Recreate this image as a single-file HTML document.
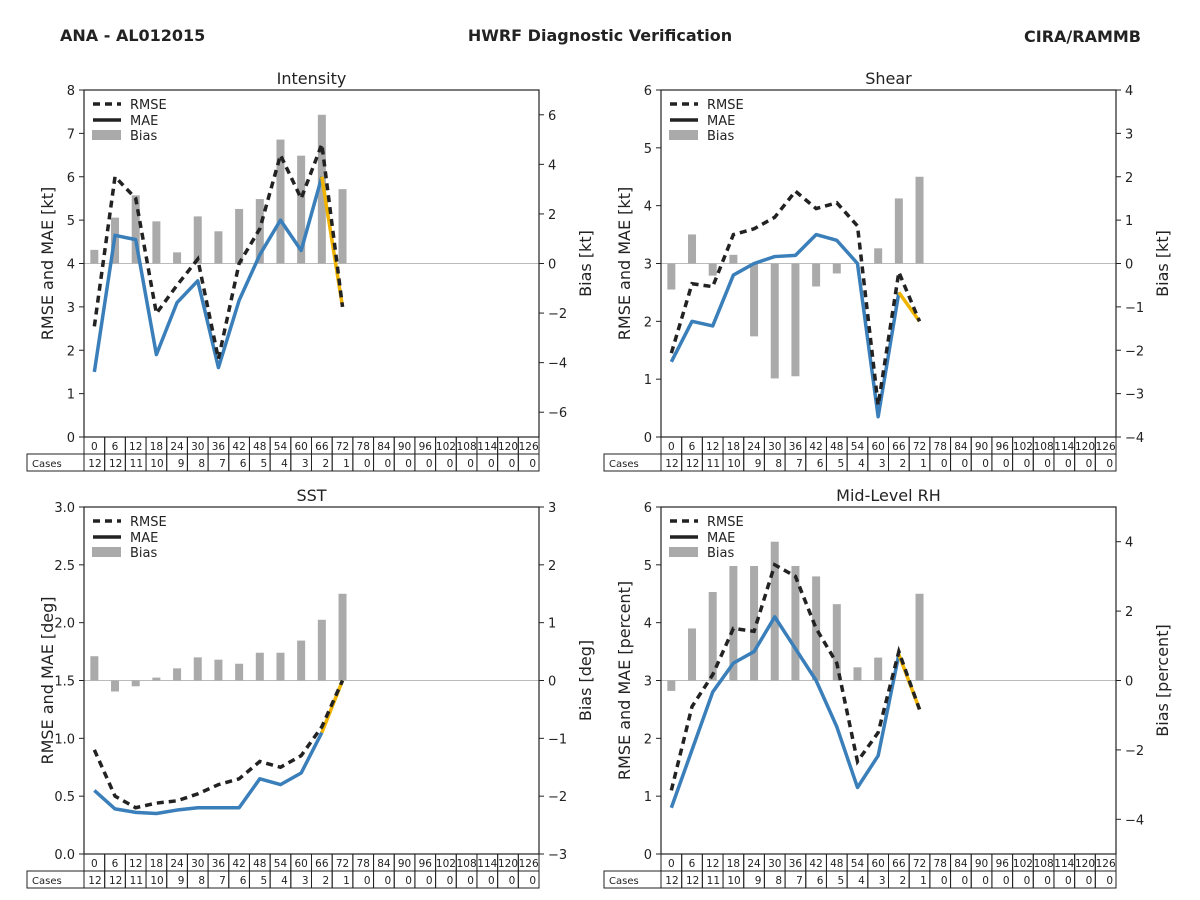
<!DOCTYPE html>
<html><head><meta charset="utf-8"><style>
body{margin:0;background:#fff;}
svg{display:block;font-family:"DejaVu Sans","Liberation Sans",sans-serif;}
</style></head><body>
<svg id="chart" width="1200" height="900">
<text x="60" y="41" font-size="16" font-weight="bold" fill="#222">ANA - AL012015</text>
<text x="600" y="41" font-size="16" font-weight="bold" fill="#222" text-anchor="middle">HWRF Diagnostic Verification</text>
<text x="1141" y="42" font-size="16" font-weight="bold" fill="#222" text-anchor="end">CIRA/RAMMB</text>
</svg>
<script>
const leads=[0,6,12,18,24,30,36,42,48,54,60,66,72,78,84,90,96,102,108,114,120,126];
const cases=[12,12,11,10,9,8,7,6,5,4,3,2,1,0,0,0,0,0,0,0,0,0];
const intRmse=[2.55,6.0,5.5,2.85,3.5,4.1,1.8,4.0,4.8,6.5,5.5,6.75,3.0];
const intMae=[1.5,4.65,4.55,1.9,3.1,3.6,1.6,3.15,4.2,5.0,4.3,6.0,3.0];
const intBias=[0.55,1.85,2.75,1.7,0.45,1.9,1.3,2.2,2.6,5.0,4.35,6.0,3.0];
const shrRmse=[1.45,2.65,2.6,3.5,3.6,3.8,4.25,3.95,4.05,3.65,0.55,2.85,2.0];
const shrMae=[1.3,2.0,1.92,2.8,3.0,3.12,3.14,3.5,3.4,3.0,0.35,2.5,2.0];
const shrBias=[-0.6,0.67,-0.28,0.2,-1.68,-2.65,-2.6,-0.53,-0.23,0,0.35,1.5,2.0];
const sstRmse=[0.9,0.5,0.4,0.44,0.46,0.52,0.6,0.65,0.8,0.75,0.85,1.1,1.5];
const sstMae=[0.55,0.39,0.36,0.35,0.38,0.4,0.4,0.4,0.65,0.6,0.7,1.05,1.5];
const sstBias=[0.42,-0.19,-0.1,0.05,0.21,0.4,0.36,0.29,0.48,0.48,0.69,1.05,1.5];
const rhRmse=[1.1,2.55,3.1,3.9,3.85,5.0,4.8,3.9,3.3,1.6,2.1,3.5,2.5];
const rhMae=[0.8,1.8,2.8,3.3,3.5,4.1,3.55,3.0,2.2,1.15,1.7,3.45,2.5];
const rhBias=[-0.3,1.5,2.55,3.3,3.3,4.0,3.3,3.0,2.2,0.38,0.66,0,2.5];

const NS='http://www.w3.org/2000/svg';
const svg=document.getElementById('chart');
function mk(tag,attrs,parent,text){const e=document.createElementNS(NS,tag);for(const k in attrs)e.setAttribute(k,attrs[k]);if(text!==undefined)e.textContent=text;(parent||svg).appendChild(e);return e;}

function panel(o){
  const g=mk('g',{});
  
  
  const x0=o.x,x1=o.x+455,y0=o.y,y1=o.y+347;
  const cw=455/leads.length;
  const xs=i=>x0+cw*(i+0.5);
  const yl=v=>y1-(v-o.lmin)/(o.lmax-o.lmin)*(y1-y0);
  const yr=v=>y1-(v-o.rmin)/(o.rmax-o.rmin)*(y1-y0);
  const t=mk('text',{x:(x0+x1)/2,y:y0-6,'font-size':16,'text-anchor':'middle',fill:'#222'},g,o.title);
  
  
  const z=mk('line',{x1:x0,x2:x1,y1:yr(0),y2:yr(0),stroke:'#bbb','stroke-width':1},g);
  
  
  o.bias.forEach((v,i)=>{
    const a=yr(Math.max(v,0)),b=yr(Math.min(v,0));
    const r=mk('rect',{x:xs(i)-4,y:a,width:8,height:Math.max(b-a,0.01),fill:'#aaaaaa'},g);
    
    
  });
  const n=o.mae.length;
  const pts=(arr,k)=>arr.slice(0,k).map((v,i)=>xs(i)+','+yl(v)).join(' ');
  const m=mk('polyline',{points:pts(o.mae,n-1),fill:'none',stroke:'#3a7fba','stroke-width':3.5,'stroke-linejoin':'round'},g);
  
  
  const ml=mk('line',{x1:xs(n-2),y1:yl(o.mae[n-2]),x2:xs(n-1),y2:yl(o.mae[n-1]),stroke:'#f0b400','stroke-width':3.5},g);
  
  
  const rm=mk('polyline',{points:pts(o.rmse,o.rmse.length),fill:'none',stroke:'#222','stroke-width':3.5,'stroke-dasharray':'7,5'},g);
  
  
  const f=mk('rect',{x:x0,y:y0,width:455,height:347,fill:'none',stroke:'#222','stroke-width':1.2},g);
  
  
  o.lt.forEach(v=>{
    const yy=yl(v);
    mk('line',{x1:x0-5,x2:x0,y1:yy,y2:yy,stroke:'#222'},g);
    const l=mk('text',{x:x0-9,y:yy+5,'font-size':13,'text-anchor':'end',fill:'#222'},g,o.lfmt(v));
    
    
  });
  o.rt.forEach(v=>{
    const yy=yr(v);
    mk('line',{x1:x1,x2:x1+5,y1:yy,y2:yy,stroke:'#222'},g);
    const l=mk('text',{x:x1+9,y:yy+5,'font-size':13,fill:'#222'},g,v<0?'\u2212'+(-v):String(v));
    
    
  });
  const ly=mk('text',{x:0,y:0,'font-size':16,'text-anchor':'middle',fill:'#222',transform:`translate(${x0-31},${(y0+y1)/2}) rotate(-90)`},g,o.lab);
  
  
  const ry=mk('text',{x:0,y:0,'font-size':16,'text-anchor':'middle',fill:'#222',transform:`translate(${x1+52},${(y0+y1)/2}) rotate(-90)`},g,o.rlab);
  
  
  const lg=mk('g',{},g);
  
  
  mk('line',{x1:x0+9,x2:x0+37,y1:y0+14,y2:y0+14,stroke:'#222','stroke-width':3.5,'stroke-dasharray':'7,5'},lg);
  mk('text',{x:x0+46,y:y0+19,'font-size':13,fill:'#222'},lg,'RMSE');
  mk('line',{x1:x0+9,x2:x0+37,y1:y0+30,y2:y0+30,stroke:'#222','stroke-width':3.5},lg);
  mk('text',{x:x0+46,y:y0+35,'font-size':13,fill:'#222'},lg,'MAE');
  mk('rect',{x:x0+8,y:y0+40,width:29,height:10,fill:'#aaaaaa'},lg);
  mk('text',{x:x0+46,y:y0+50,'font-size':13,fill:'#222'},lg,'Bias');
  const tb=mk('g',{},g);
  
  
  const ty=y1;
  mk('rect',{x:x0-57,y:ty+17,width:57,height:17,fill:'none',stroke:'#222'},tb);
  mk('text',{x:x0-52,y:ty+30,'font-size':10,fill:'#222'},tb,'Cases');
  leads.forEach((L,i)=>{
    const cx=x0+cw*i;
    mk('rect',{x:cx,y:ty,width:cw,height:17,fill:'none',stroke:'#222'},tb);
    mk('rect',{x:cx,y:ty+17,width:cw,height:17,fill:'none',stroke:'#222'},tb);
    mk('text',{x:cx+cw/2,y:ty+13,'font-size':10.5,'text-anchor':'middle',fill:'#222'},tb,L);
    mk('text',{x:cx+cw-3,y:ty+30,'font-size':10.5,'text-anchor':'end',fill:'#222'},tb,cases[i]);
  });
}
const f0=v=>String(v), f1=v=>v.toFixed(1);
panel({id:'intensity',title:'Intensity',x:84,y:90,lmin:0,lmax:8,rmin:-7,rmax:7,lt:[0,1,2,3,4,5,6,7,8],rt:[-6,-4,-2,0,2,4,6],lfmt:f0,lab:'RMSE and MAE [kt]',rlab:'Bias [kt]',rmse:intRmse,mae:intMae,bias:intBias});
panel({id:'shear',title:'Shear',x:661,y:90,lmin:0,lmax:6,rmin:-4,rmax:4,lt:[0,1,2,3,4,5,6],rt:[-4,-3,-2,-1,0,1,2,3,4],lfmt:f0,lab:'RMSE and MAE [kt]',rlab:'Bias [kt]',rmse:shrRmse,mae:shrMae,bias:shrBias});
panel({id:'sst',title:'SST',x:84,y:507,lmin:0,lmax:3,rmin:-3,rmax:3,lt:[0,0.5,1,1.5,2,2.5,3],rt:[-3,-2,-1,0,1,2,3],lfmt:f1,lab:'RMSE and MAE [deg]',rlab:'Bias [deg]',rmse:sstRmse,mae:sstMae,bias:sstBias});
panel({id:'midlevel-rh',title:'Mid-Level RH',x:661,y:507,lmin:0,lmax:6,rmin:-5,rmax:5,lt:[0,1,2,3,4,5,6],rt:[-4,-2,0,2,4],lfmt:f0,lab:'RMSE and MAE [percent]',rlab:'Bias [percent]',rmse:rhRmse,mae:rhMae,bias:rhBias});
</script>
</body></html>
